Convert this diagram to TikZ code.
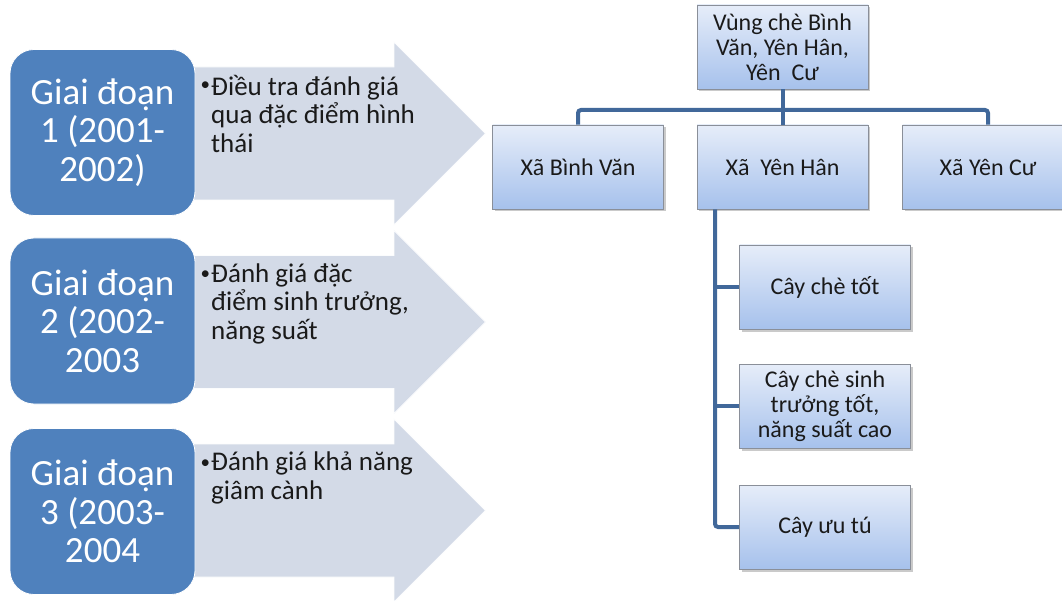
\documentclass[tikz,border=0pt]{standalone}
\usepackage{fontspec}
\setmainfont{Carlito}
\usetikzlibrary{shadows}
\definecolor{stageblue}{HTML}{4F81BD}
\definecolor{arrowfill}{HTML}{D3DAE7}
\definecolor{orgtop}{HTML}{E6EDF9}
\definecolor{orgbot}{HTML}{A6C1EC}
\definecolor{orgline}{HTML}{8A8F99}
\definecolor{connblue}{HTML}{41689A}
\definecolor{textdark}{HTML}{1A1A1A}
\tikzset{
  stagebox/.style={draw=white, line width=0.8pt, fill=stageblue, rounded corners=24pt, minimum width=185pt, minimum height=166pt, inner sep=0pt, text=white, align=center, font=\fontsize{37}{38.5}\selectfont},
  bigarrow/.style={fill=arrowfill, draw=white!92!arrowfill, line width=0.8pt},
  arrowtext/.style={anchor=north west, inner sep=0pt, align=left, text=textdark, font=\fontsize{27}{28.5}\selectfont},
  bulletmark/.style={anchor=base west, inner sep=0pt, text=textdark, font=\fontsize{19}{20}\selectfont},
  orgbox/.style={draw=orgline, line width=0.7pt, top color=orgtop, bottom color=orgbot, minimum width=171pt, minimum height=84pt, inner sep=0pt, align=center, text=textdark, font=\fontsize{24}{25}\selectfont, drop shadow={shadow xshift=2pt, shadow yshift=-2.5pt, opacity=0.35, fill=black!60}},
  conn/.style={draw=connblue, line width=4pt}
}
\begin{document}
\begin{tikzpicture}[x=1pt,y=-1pt]
\useasboundingbox (0,0) rectangle (1062,601);
% arrows
\foreach \d/\n in {0/1,188.5/2,377/3}{
  \path[bigarrow] (190,67+\d) -- (394,67+\d) -- (394,42+\d) -- (485.5,133.5+\d) -- (394,225+\d) -- (394,200+\d) -- (190,200+\d) -- cycle;
}
% stage boxes
\node[stagebox] (s1) at (102.5,132.5) {Giai đoạn\\1 (2001-\\2002)};
\node[stagebox] (s2) at (102.5,321) {Giai đoạn\\2 (2002-\\2003};
\node[stagebox] (s3) at (102.5,511.5) {Giai đoạn\\3 (2003-\\2004};
% arrow texts
\node[bulletmark] (b1) at (200.5,91) {\textbullet};
\node[arrowtext] (t1) at (211,75) {Điều tra đánh giá\\qua đặc điểm hình\\thái};
\node[bulletmark] (b2) at (200.5,279.5) {\textbullet};
\node[arrowtext] (t2) at (211,263.5) {Đánh giá đặc\\điểm sinh trưởng,\\năng suất};
\node[bulletmark] (b3) at (200.5,468) {\textbullet};
\node[arrowtext] (t3) at (211,452) {Đánh giá khả năng\\giâm cành};
% org chart
\coordinate (bus) at (0,110);
\coordinate (trunk) at (715,0);
\node[orgbox] (top) at (782.5,47) {Vùng chè Bình\\Văn, Yên Hân,\\Yên\ \ Cư};
\node[orgbox] (c1) at (578,167) {Xã Bình Văn};
\node[orgbox] (c2) at (782.5,167) {Xã\ \ Yên Hân};
\node[orgbox] (c3) at (988,167) {Xã Yên Cư};
\node[orgbox] (g1) at (825,287) {Cây chè tốt};
\node[orgbox] (g2) at (825,406) {Cây chè sinh\\trưởng tốt,\\năng suất cao};
\node[orgbox] (g3) at (825,527) {Cây ưu tú};
\draw[conn] (top.south) -- (top.south |- bus);
\draw[conn,rounded corners=3pt] (c1.north) -- (c1.north |- bus) -- (c3.north |- bus) -- (c3.north);
\draw[conn] (c2.north |- bus) -- (c2.north);
\draw[conn,rounded corners=3pt] (c2.south -| trunk) -- (g3.west -| trunk) -- (g3.west);
\draw[conn] (g1.west -| trunk) -- (g1.west);
\draw[conn] (g2.west -| trunk) -- (g2.west);
\end{tikzpicture}
\end{document}
